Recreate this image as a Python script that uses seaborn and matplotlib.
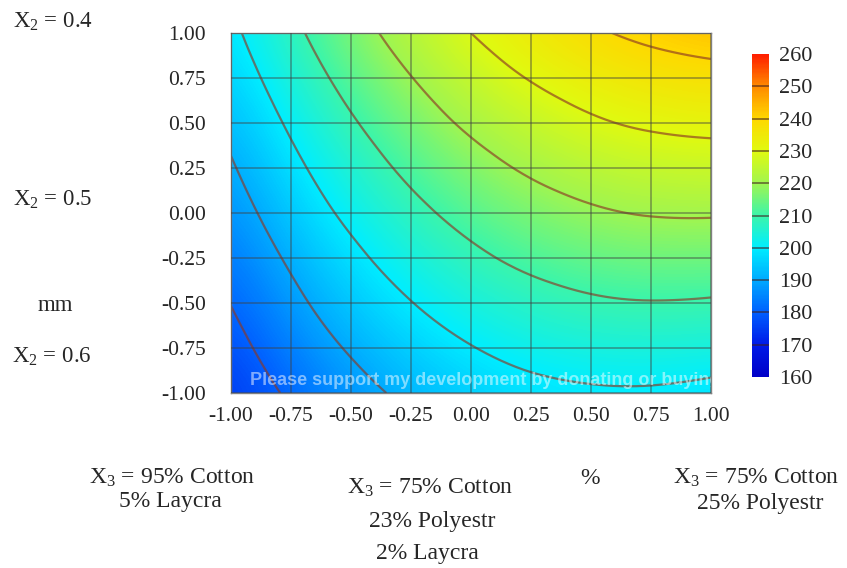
import numpy as np
import matplotlib.pyplot as plt
import matplotlib as mpl
import matplotlib.tri as mtri
import seaborn as sns

# ---------------------------------------------------------------------------
# Data
# ---------------------------------------------------------------------------
x_vals = [-1.00, -0.75, -0.50, -0.25, 0.00, 0.25, 0.50, 0.75, 1.00]
y_vals = [-1.00, -0.75, -0.50, -0.25, 0.00, 0.25, 0.50, 0.75, 1.00]

# response at each grid crossing, rows from y = -1 (bottom) up to y = 1 (top)
z_rows = [
    [174.2, 181.2, 187.1, 191.8, 195.4, 197.8, 199.0, 199.1, 198.0],
    [177.2, 184.6, 190.8, 195.8, 199.7, 202.5, 204.0, 204.4, 203.7],
    [180.2, 187.9, 194.5, 199.8, 204.1, 207.1, 209.0, 209.7, 209.3],
    [183.2, 191.2, 198.1, 203.8, 208.4, 211.8, 214.0, 215.1, 215.0],
    [186.2, 194.6, 201.8, 207.8, 212.7, 216.4, 219.0, 220.4, 220.6],
    [189.2, 197.9, 205.4, 211.8, 217.0, 221.1, 224.0, 225.7, 226.3],
    [192.2, 201.2, 209.1, 215.8, 221.4, 225.7, 229.0, 231.0, 231.9],
    [195.2, 204.6, 212.8, 219.8, 225.7, 230.4, 233.9, 236.3, 237.6],
    [198.2, 207.9, 216.4, 223.8, 230.0, 235.0, 238.9, 241.6, 243.2],
]

contour_levels = [180, 190, 200, 210, 220, 230, 240]
cbar_ticks = [160, 170, 180, 190, 200, 210, 220, 230, 240, 250, 260]
cbar_lines = [170, 180, 190, 200, 210, 220, 230, 240, 250]
tick_labels = ["-1.00", "-0.75", "-0.50", "-0.25", "0.00", "0.25", "0.50", "0.75", "1.00"]

# ---------------------------------------------------------------------------
# Style
# ---------------------------------------------------------------------------
sns.set_style("white")
plt.rcParams["font.family"] = ["Liberation Serif", "DejaVu Serif"]
plt.rcParams["mathtext.fontset"] = "custom"
plt.rcParams["mathtext.rm"] = "Liberation Serif"
plt.rcParams["mathtext.it"] = "Liberation Serif:italic"

cmap = sns.blend_palette(
    ["#0000c8", "#001ae8", "#0060ff", "#00aaff", "#00eeff", "#3cf5aa",
     "#a0f550", "#e0fa10", "#ffd800", "#ff8c00", "#ff1e00"],
    as_cmap=True)
norm = mpl.colors.Normalize(vmin=160, vmax=260)

W, H = 847, 568
fig = plt.figure(figsize=(W / 100, H / 100), dpi=100)
ax = fig.add_axes([231 / W, 1 - 393 / H, 480 / W, 360 / H])

Z = np.array(z_rows)
X, Y = np.meshgrid(x_vals, y_vals)

half = (x_vals[1] - x_vals[0]) / 2
ax.imshow(Z, origin="lower", cmap=cmap, norm=norm,
          extent=(x_vals[0] - half, x_vals[-1] + half,
                  y_vals[0] - half, y_vals[-1] + half),
          interpolation="bicubic", interpolation_stage="data", aspect="auto")

# smooth contour lines through a refined triangulation of the grid
tri = mtri.Triangulation(X.ravel(), Y.ravel())
interp = mtri.CubicTriInterpolator(tri, Z.ravel())
tri_f, z_f = mtri.UniformTriRefiner(tri).refine_field(Z.ravel(), triinterpolator=interp, subdiv=3)
ax.tricontour(tri_f, z_f, levels=contour_levels, colors=[(0.55, 0.22, 0.14)],
              linewidths=1.6, alpha=0.65)

ax.set_xlim(-1, 1)
ax.set_ylim(-1, 1)
ax.set_xticks(x_vals)
ax.set_yticks(y_vals)
ax.set_xticklabels(tick_labels)
ax.set_yticklabels(tick_labels)
ax.grid(True, color="#404040", alpha=0.55, linewidth=1.1)
ax.set_axisbelow(False)
ax.tick_params(axis="both", direction="out", length=8, width=1.3,
               color="#888888", labelsize=15.5)
ax.tick_params(axis="y", pad=10)
ax.tick_params(axis="x", pad=2)
for sp in ax.spines.values():
    sp.set_color("#808080")
    sp.set_linewidth(1.0)

ax.text(0.04, 0.022, "Please support my development by donating or buying",
        transform=ax.transAxes, family="Liberation Sans", weight="bold",
        fontsize=13, color="white", alpha=0.5, clip_on=True)

# colour bar
cax = fig.add_axes([752 / W, 1 - 377 / H, 17 / W, 323 / H])
cb = fig.colorbar(mpl.cm.ScalarMappable(norm=norm, cmap=cmap), cax=cax,
                  ticks=cbar_ticks)
cb.outline.set_visible(False)
cax.tick_params(length=0, labelsize=16, pad=7)
for lv in cbar_lines:
    cax.axhline(lv, color="#402020", alpha=0.6, linewidth=1.3)


def ftext(px, py, s, ha="left", size=16.5):
    fig.text(px / W, 1 - py / H, s, ha=ha, va="center", fontsize=size)


# left side labels
ftext(13, 22, r"X$_{\mathrm{2}}$ = 0.4")
ftext(13, 200, r"X$_{\mathrm{2}}$ = 0.5")
ftext(55, 306, "mm", ha="center")
ftext(12, 357, r"X$_{\mathrm{2}}$ = 0.6")

# bottom labels
ftext(172, 478, r"X$_{\mathrm{3}}$ = 95% Cotton", ha="center", size=17)
ftext(170, 502, "5% Laycra", ha="center", size=17)
ftext(430, 488, r"X$_{\mathrm{3}}$ = 75% Cotton", ha="center", size=17)
ftext(432, 522, "23% Polyestr", ha="center", size=17)
ftext(427, 553, "2% Laycra", ha="center", size=17)
ftext(590, 478, "%", ha="center", size=17)
ftext(756, 478, r"X$_{\mathrm{3}}$ = 75% Cotton", ha="center", size=17)
ftext(760, 503, "25% Polyestr", ha="center", size=17)

fig.savefig("out.png", dpi=100)
